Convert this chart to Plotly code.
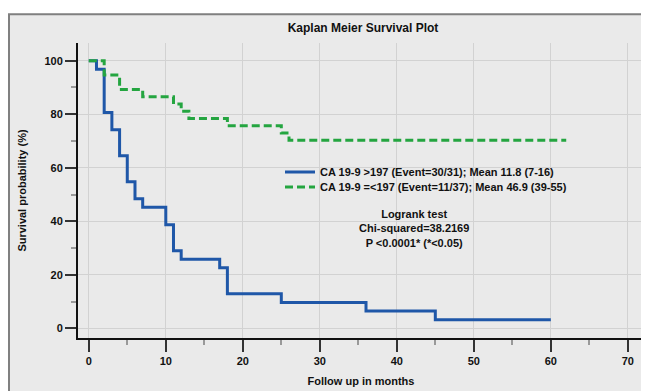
import plotly.graph_objects as go

# Kaplan-Meier step data (months, survival %)
high_t = [0, 1, 2, 3, 4, 5, 6, 7, 10, 11, 12, 17, 18, 25, 36, 45, 60]
high_s = [100, 96.8, 80.6, 74.2, 64.5, 54.8, 48.4, 45.2, 38.7, 29.0, 25.8, 22.6, 12.9, 9.7, 6.5, 3.2, 3.2]
low_t = [0, 2, 4, 7, 11, 12, 13, 18, 25, 26, 62]
low_s = [100, 94.6, 89.2, 86.5, 83.8, 81.1, 78.4, 75.7, 73.0, 70.3, 70.3]

high_name = "CA 19-9 >197 (Event=30/31); Mean 11.8 (7-16)"
low_name = "CA 19-9 =&lt;197 (Event=11/37); Mean 46.9 (39-55)"

x_ticks = [0, 10, 20, 30, 40, 50, 60, 70]
y_ticks = [0, 20, 40, 60, 80, 100]

FONT = "Liberation Sans, Arial, sans-serif"
bold = dict(family=FONT, size=11, color="#111111", weight="bold")

# page body has an 8px margin; figure is sized/placed to compensate
OFF = 8
W, H = 649 - OFF, 391 - OFF
ml, mr, mt, mb = 78 - OFF, 5, 43 - OFF, 51
pw, ph = W - ml - mr, H - mt - mb


def px(x):
    return (x - OFF - ml) / pw


def py(y):
    return (mt + ph - (y - OFF)) / ph


fig = go.Figure()
fig.add_trace(go.Scatter(x=high_t, y=high_s, mode="lines", name=high_name, legend="legend",
                         line=dict(shape="hv", color="#1f57a8", width=3)))
fig.add_trace(go.Scatter(x=low_t, y=low_s, mode="lines", name=low_name, legend="legend2",
                         line=dict(shape="hv", color="#24a540", width=3, dash="8px,4px")))

leg = dict(xanchor="left", yanchor="middle", bgcolor="rgba(0,0,0,0)", font=bold,
           borderwidth=0)

fig.update_layout(
    width=W, height=H, autosize=False,
    margin=dict(l=ml, r=mr, t=mt, b=mb, pad=0),
    paper_bgcolor="white",
    plot_bgcolor="rgba(0,0,0,0)",
    font=bold,
    title=dict(text="Kaplan Meier Survival Plot", x=px(363), xref="paper", xanchor="center",
               y=1 - (28 - OFF) / H, yref="container", yanchor="middle",
               font=dict(family=FONT, size=12, color="#111111", weight="bold")),
    showlegend=True,
    legend=dict(x=px(280), y=py(173), **leg),
    legend2=dict(x=px(280), y=py(188), **leg),
    xaxis=dict(range=[-1.4, 72.1], tickvals=x_ticks, showgrid=True, gridcolor="#d2d2d2", gridwidth=1,
               zeroline=False, showline=True, linecolor="#111111", linewidth=2,
               ticks="outside", ticklen=12, tickwidth=2, tickcolor="#333333",
               minor=dict(dtick=5, tick0=0, ticks="outside", ticklen=5, tickwidth=1.5, tickcolor="#999999", showgrid=False),
               tickfont=bold,
               title=dict(text="Follow up in months", font=bold, standoff=11)),
    yaxis=dict(range=[-3.6, 106.6], tickvals=y_ticks, showgrid=True, gridcolor="#d2d2d2", gridwidth=1,
               zeroline=False, showline=True, linecolor="#111111", linewidth=2,
               ticks="outside", ticklen=11, tickwidth=2, tickcolor="#333333",
               minor=dict(dtick=10, tick0=0, ticks="outside", ticklen=5, tickwidth=1.5, tickcolor="#999999", showgrid=False),
               tickfont=bold,
               title=dict(text="Survival probability (%)", font=bold, standoff=16)),
    shapes=[dict(type="rect", xref="paper", yref="paper", layer="below",
                 x0=px(9), x1=px(720), y0=py(420), y1=py(14),
                 fillcolor="#eaeaea", line=dict(color="#808080", width=2))],
    annotations=[dict(text="Logrank test<br>Chi-squared=38.2169<br>P &lt;0.0001* (*&lt;0.05)",
                      xref="paper", yref="paper", x=px(414), y=py(230),
                      xanchor="center", yanchor="middle", showarrow=False, align="center",
                      font=bold)],
)

fig.write_html("out.html")
